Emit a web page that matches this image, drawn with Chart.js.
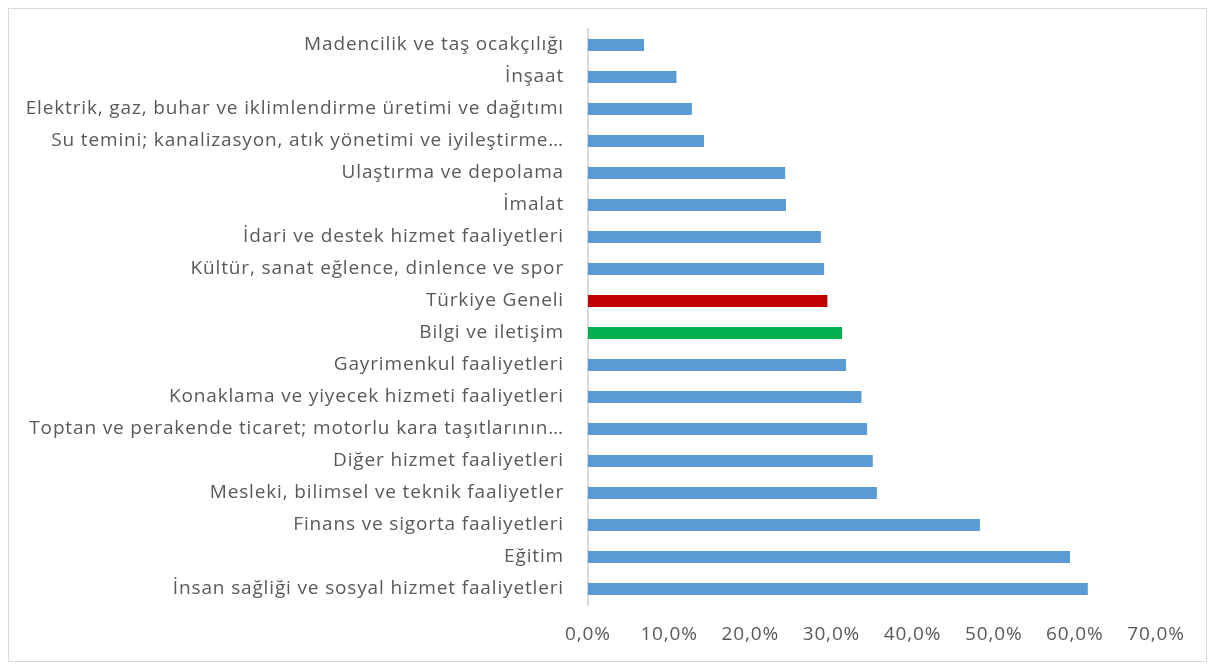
<!DOCTYPE html>
<html>
<head>
    <title>Sektörler</title>
    <script src="https://cdn.jsdelivr.net/npm/chart.js"></script>
    <style>
        body {
            margin: 0;
            background-color: #fff;
            font-family: "Open Sans", sans-serif;
        }
        .chart-box {
            position: absolute;
            left: 8px;
            top: 8px;
            width: 1197px;
            height: 652px;
            border: 1px solid #d9d9d9;
        }
    </style>
</head>
<body>
<div class="chart-box">
    <canvas id="sectorChart" width="1197" height="652"></canvas>
</div>

<script>
    const sectors = [
        'Madencilik ve taş ocakçılığı',
        'İnşaat',
        'Elektrik, gaz, buhar ve iklimlendirme üretimi ve dağıtımı',
        'Su temini; kanalizasyon, atık yönetimi ve iyileştirme…',
        'Ulaştırma ve depolama',
        'İmalat',
        'İdari ve destek hizmet faaliyetleri',
        'Kültür, sanat eğlence, dinlence ve spor',
        'Türkiye Geneli',
        'Bilgi ve iletişim',
        'Gayrimenkul faaliyetleri',
        'Konaklama ve yiyecek hizmeti faaliyetleri',
        'Toptan ve perakende ticaret; motorlu kara taşıtlarının…',
        'Diğer hizmet faaliyetleri',
        'Mesleki, bilimsel ve teknik faaliyetler',
        'Finans ve sigorta faaliyetleri',
        'Eğitim',
        'İnsan sağliği ve sosyal hizmet faaliyetleri'
    ];
    const shares = [6.9, 10.9, 12.8, 14.3, 24.3, 24.4, 28.7, 29.1, 29.5, 31.3, 31.8, 33.7, 34.4, 35.1, 35.6, 48.3, 59.4, 61.6];
    const xTicks = [0, 10, 20, 30, 40, 50, 60, 70];

    // vurgulanan satırlar
    const barColors = sectors.map(s => {
        if (s === 'Türkiye Geneli') return '#C00000';
        if (s === 'Bilgi ve iletişim') return '#00B050';
        return '#5B9BD5';
    });

    const labelFont = { family: 'Open Sans', size: 19 };

    // Calibri'ye benzesin diye harf aralığı biraz açılıyor
    const spacingPlugin = {
        id: 'spacing',
        beforeDraw: chart => { chart.ctx.letterSpacing = '0.85px'; }
    };

    const ctx = document.getElementById('sectorChart').getContext('2d');
    new Chart(ctx, {
        type: 'bar',
        data: {
            labels: sectors,
            datasets: [{
                data: shares,
                backgroundColor: barColors,
                barPercentage: 0.37,
                categoryPercentage: 1
            }]
        },
        options: {
            indexAxis: 'y',
            responsive: false,
            animation: false,
            layout: { padding: { top: 20, right: 50, bottom: 0, left: 0 } },
            plugins: { legend: { display: false }, tooltip: { enabled: false } },
            scales: {
                x: {
                    min: 0,
                    max: 70,
                    afterBuildTicks: axis => { axis.ticks = xTicks.map(v => ({ value: v })); },
                    afterFit: axis => { axis.height = 56; },
                    ticks: {
                        color: '#595959',
                        font: labelFont,
                        padding: 18,
                        callback: v => v.toFixed(1).replace('.', ',') + '%'
                    },
                    grid: { display: false, drawTicks: false },
                    border: { display: false }
                },
                y: {
                    afterFit: axis => {
                        axis.width = 579;
                        axis.paddingTop = 0;
                        axis.paddingBottom = 0;
                    },
                    ticks: {
                        color: '#595959',
                        font: labelFont,
                        padding: 24,
                        autoSkip: false
                    },
                    grid: { display: false, drawTicks: false },
                    border: { display: true, color: '#d9d9d9', width: 2 }
                }
            }
        },
        plugins: [spacingPlugin]
    });
</script>
</body>
</html>
